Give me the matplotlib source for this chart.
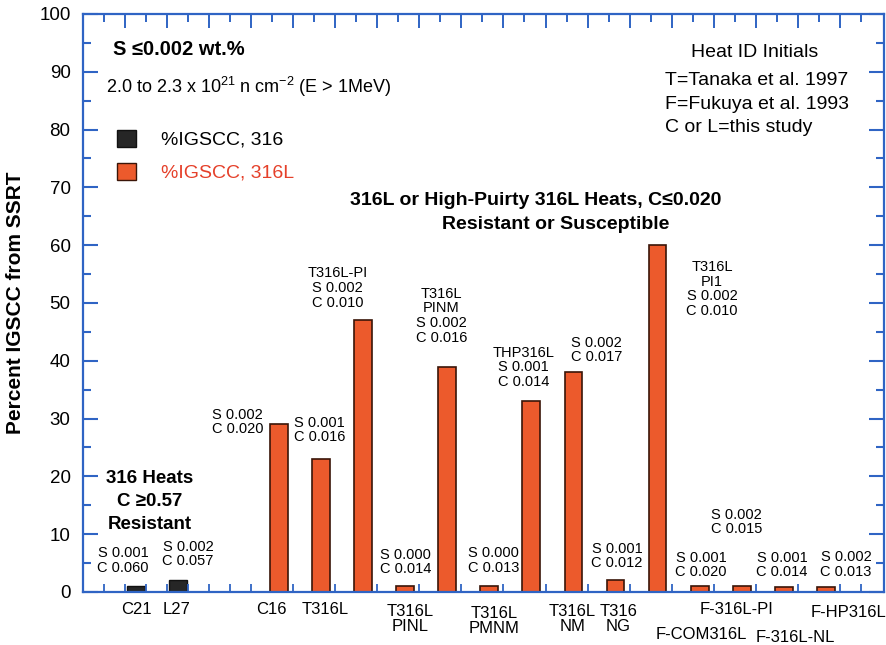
import numpy as np
import matplotlib
matplotlib.use("Agg")
import matplotlib.pyplot as plt
from matplotlib.patches import Patch

plt.rcParams['font.family'] = ['Liberation Sans', 'DejaVu Sans']
plt.rcParams['mathtext.fontset'] = 'custom'
plt.rcParams['mathtext.rm'] = 'Liberation Sans'
plt.rcParams['mathtext.it'] = 'Liberation Sans:italic'
plt.rcParams['mathtext.bf'] = 'Liberation Sans:bold'

# 316 heats (C >= 0.057)
heats_316 = ["C21", "L27"]
igscc_316 = [1.0, 2.0]
s_316 = ["0.001", "0.002"]
c_316 = ["0.060", "0.057"]

# 316L / high-purity 316L heats
heats_316L = ["C16", "T316L", "T316L-PI", "T316L\nPINL", "T316L\nPINM", "T316L\nPMNM",
              "THP316L", "T316L\nNM", "T316\nNG", "T316L\nPI1", "F-COM316L",
              "F-316L-PI", "F-316L-NL", "F-HP316L"]
igscc_316L = [29, 23, 47, 1.0, 39, 1.0, 33, 38, 2.0, 60, 1.0, 1.0, 0.8, 0.8]
s_316L = ["0.002", "0.001", "0.002", "0.000", "0.002", "0.000", "0.001",
          "0.002", "0.001", "0.002", "0.001", "0.002", "0.001", "0.002"]
c_316L = ["0.020", "0.016", "0.010", "0.014", "0.016", "0.013", "0.014",
          "0.017", "0.012", "0.010", "0.020", "0.015", "0.014", "0.013"]
# heats whose name is written above the bar instead of under the axis
name_on_top = ["T316L-PI", "T316L\nPINM", "THP316L", "T316L\nPI1"]

blue = "#2f64c4"
orange = "#ec5a2c"
dark = "#262626"

x316 = 2.5 + 2 * np.arange(len(heats_316))
x316L = 9.33 + 2 * np.arange(len(heats_316L))

fig = plt.figure(figsize=(8.86, 6.45), dpi=100)
ax = fig.add_axes([0.0937, 0.0822, 0.904, 0.8961])

ax.bar(x316, igscc_316, width=0.85, color=dark, edgecolor="#111111", linewidth=1.0)
ax.bar(x316L, igscc_316L, width=0.85, color=orange, edgecolor="#3a1508", linewidth=1.2)

ax.set_xlim(0, 38.1)
ax.set_ylim(0, 100)

for sp in ax.spines.values():
    sp.set_color(blue)
    sp.set_linewidth(1.6)

ax.set_yticks(np.arange(0, 101, 10))
ax.set_yticks(np.arange(5, 100, 10), minor=True)
ax.tick_params(axis='y', which='major', direction='in', length=11, width=1.5,
               color=blue, labelsize=13.5, pad=9, right=True)
ax.tick_params(axis='y', which='minor', direction='in', length=6, width=1.5,
               color=blue, right=True)
ax.set_xticks(list(range(1, 9)) + list(range(10, 37, 2)) + [37])
ax.set_xticks(np.arange(1, 38, 1), minor=True)
ax.tick_params(axis='x', which='major', direction='in', length=6, width=1.3,
               color=blue, labelbottom=False, top=False)
ax.tick_params(axis='x', which='minor', direction='in', length=0, top=False, bottom=False)

# top ticks: alternating long/short
sec = ax.secondary_xaxis('top')
sec.set_xticks(np.arange(2, 38, 2))
sec.set_xticks(np.arange(1, 38, 2), minor=True)
sec.tick_params(which='major', direction='in', length=10, width=1.4, color=blue, labeltop=False)
sec.tick_params(which='minor', direction='in', length=6, width=1.4, color=blue)
sec.spines['top'].set_visible(False)

ax.set_ylabel("Percent IGSCC from SSRT", fontsize=15, fontweight='bold', labelpad=10)

# composition notes over the bars
note_xy_316 = [(1.9, 5.4), (4.99, 6.6)]
note_xy_316L = [(7.36, 29.4), (11.26, 28.0), (12.11, 52.6), (15.34, 5.2), (17.05, 47.8),
                (19.52, 5.4), (20.95, 38.9), (24.42, 41.9), (25.4, 6.2), (29.93, 52.4),
                (29.4, 4.7), (31.1, 12.1), (33.25, 4.7), (36.3, 4.8)]
name_xy_316 = [(2.55, -3.1), (4.46, -3.1)]
name_xy_316L = [(8.98, -3.1), (11.5, -3.1), None, (15.58, -4.67), None, (19.57, -5.0),
                None, (23.28, -4.67), (25.46, -4.67), None, (29.4, -7.44), (31.07, -3.1),
                (33.87, -7.79), (36.4, -3.63)]

heats = heats_316 + heats_316L
s_all = s_316 + s_316L
c_all = c_316 + c_316L
note_xy = note_xy_316 + note_xy_316L
name_xy = name_xy_316 + name_xy_316L
for h, s, c, (tx, ty), nxy in zip(heats, s_all, c_all, note_xy, name_xy):
    txt = "S " + s + "\nC " + c
    if h in name_on_top:
        txt = h + "\n" + txt
    ax.text(tx, ty, txt, ha='center', va='center', fontsize=10.5, linespacing=1.05)
    if nxy is not None:
        ax.text(nxy[0], nxy[1], h, ha='center', va='center', fontsize=12,
                linespacing=1.0, clip_on=False)

# header texts
ax.text(0.0375, 0.938, "S \u22640.002 wt.%", transform=ax.transAxes, fontsize=14.5,
        fontweight='bold', va='center')
ax.text(0.029, 0.873, r"2.0 to 2.3 x 10$^{21}$ n cm$^{-2}$ (E > 1MeV)", transform=ax.transAxes,
        fontsize=13, va='center')
ax.text(0.838, 0.933, "Heat ID Initials", transform=ax.transAxes, fontsize=14, ha='center',
        va='center')
ax.text(0.727, 0.899, "T=Tanaka et al. 1997\nF=Fukuya et al. 1993\nC or L=this study",
        transform=ax.transAxes, fontsize=14, va='top', linespacing=1.5)

ax.text(3.18, 15.7, "316 Heats\nC \u22650.57\nResistant", ha='center', va='center',
        fontsize=13.5, fontweight='bold', linespacing=1.45)
ax.text(21.53, 67.8, "316L or High-Puirty 316L Heats, C\u22640.020", ha='center', va='center',
        fontsize=14, fontweight='bold')
ax.text(22.47, 63.5, "Resistant or Susceptible", ha='center', va='center',
        fontsize=14, fontweight='bold')

handles = [Patch(facecolor=dark, edgecolor='#111111'),
           Patch(facecolor=orange, edgecolor='#3a1508')]
ax.legend(handles, ["%IGSCC, 316", "%IGSCC, 316L"], loc='upper left',
          bbox_to_anchor=(0.042, 0.80), frameon=False, fontsize=14,
          handlelength=1.0, handleheight=1.0, handletextpad=1.3, labelspacing=0.7,
          borderpad=0, borderaxespad=0, labelcolor=['black', '#e5402a'])

fig.savefig("out.png", dpi=100)
